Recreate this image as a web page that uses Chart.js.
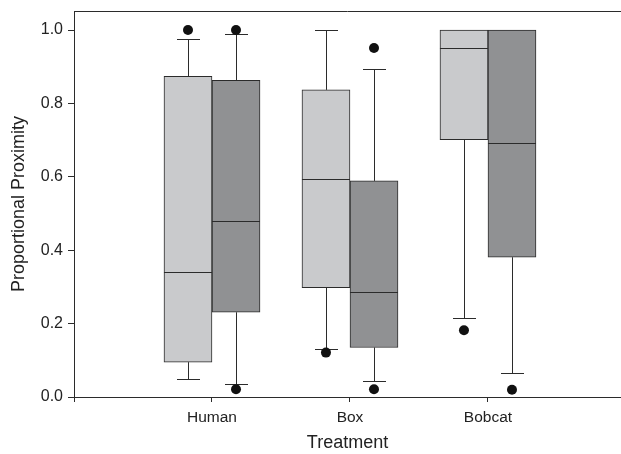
<!DOCTYPE html>
<html>
<head>
<meta charset="utf-8">
<script src="https://cdn.jsdelivr.net/npm/chart.js@4"></script>
<style>
  body { margin: 0; background: #fff; }
</style>
</head>
<body>
<canvas id="chart" width="621" height="454"></canvas>
<script>
// Data
const categories = ["Human", "Box", "Bobcat"];

// light gray boxes
const lightQ1 = [0.095, 0.298, 0.701];
const lightMed = [0.340, 0.595, 0.951];
const lightQ3 = [0.874, 0.837, 1.000];
const lightLow = [0.050, 0.131, 0.216];
const lightHigh = [0.977, 1.000, 1.000];
const lightOutliers = [[1.000], [0.121], [0.182]];

// dark gray boxes
const darkQ1 = [0.231, 0.135, 0.381];
const darkMed = [0.481, 0.285, 0.691];
const darkQ3 = [0.863, 0.589, 1.000];
const darkLow = [0.035, 0.044, 0.066];
const darkHigh = [0.988, 0.894, 1.000];
const darkOutliers = [[1.000, 0.021], [0.951, 0.021], [0.020]];

const yTicks = [0, 0.2, 0.4, 0.6, 0.8, 1.0];

const OFFSET = 0.174; // half a box, in category units
const ink = "#2b2b2b";
const font = "Liberation Sans, Arial, sans-serif";

function boxes(q1, q3, shift) {
  return categories.map((c, i) => ({ x: i + 1 + shift, y: [q1[i], q3[i]] }));
}
function outlierPoints(list, shift) {
  let pts = [];
  list.forEach((vals, i) => vals.forEach(v => pts.push({ x: i + 1 + shift, y: v })));
  return pts;
}

const series = [
  { shift: -OFFSET, low: lightLow, high: lightHigh, med: lightMed, q1: lightQ1, q3: lightQ3 },
  { shift: OFFSET, low: darkLow, high: darkHigh, med: darkMed, q1: darkQ1, q3: darkQ3 }
];

// whiskers, caps, medians and the top frame line
const boxExtras = {
  id: "boxExtras",
  beforeDatasetsDraw(chart) {
    const ctx = chart.ctx, x = chart.scales.x, y = chart.scales.y;
    ctx.save();
    ctx.strokeStyle = ink;
    ctx.lineWidth = 1;
    series.forEach(s => {
      categories.forEach((c, i) => {
        let cx = Math.round(x.getPixelForValue(i + 1 + s.shift)) + 0.5;
        let capHalf = 11.5;
        [[s.q3[i], s.high[i]], [s.q1[i], s.low[i]]].forEach(([from, to]) => {
          let y1 = y.getPixelForValue(from), y2 = Math.round(y.getPixelForValue(to)) + 0.5;
          ctx.beginPath();
          ctx.moveTo(cx, y1);
          ctx.lineTo(cx, y2);
          ctx.moveTo(cx - capHalf, y2);
          ctx.lineTo(cx + capHalf, y2);
          ctx.stroke();
        });
      });
    });
    ctx.restore();
  },
  afterDatasetsDraw(chart) {
    const ctx = chart.ctx, x = chart.scales.x, y = chart.scales.y, a = chart.chartArea;
    ctx.save();
    ctx.strokeStyle = ink;
    ctx.lineWidth = 1;
    series.forEach(s => {
      categories.forEach((c, i) => {
        let cx = x.getPixelForValue(i + 1 + s.shift);
        let my = Math.round(y.getPixelForValue(s.med[i])) + 0.5;
        ctx.beginPath();
        ctx.moveTo(cx - 24, my);
        ctx.lineTo(cx + 24, my);
        ctx.stroke();
      });
    });
    ctx.beginPath();
    ctx.moveTo(a.left, Math.round(a.top) + 0.5);
    ctx.lineTo(a.right, Math.round(a.top) + 0.5);
    ctx.stroke();
    ctx.restore();
  }
};

new Chart(document.getElementById("chart"), {
  data: {
    datasets: [
      {
        type: "scatter", data: outlierPoints(lightOutliers, -OFFSET),
        pointRadius: 5, pointBackgroundColor: "#111", pointBorderWidth: 0, order: 0
      },
      {
        type: "scatter", data: outlierPoints(darkOutliers, OFFSET),
        pointRadius: 5, pointBackgroundColor: "#111", pointBorderWidth: 0, order: 0
      },
      {
        type: "bar", data: boxes(lightQ1, lightQ3, -OFFSET),
        backgroundColor: "#c9cacc", borderColor: ink, borderWidth: 1,
        borderSkipped: false, barThickness: 48, grouped: false, order: 1
      },
      {
        type: "bar", data: boxes(darkQ1, darkQ3, OFFSET),
        backgroundColor: "#909193", borderColor: ink, borderWidth: 1,
        borderSkipped: false, barThickness: 48, grouped: false, order: 1
      }
    ]
  },
  options: {
    responsive: false,
    animation: false,
    devicePixelRatio: 1,
    layout: { autoPadding: false, padding: { top: 11, right: 0, left: 0, bottom: 0 } },
    plugins: { legend: { display: false }, tooltip: { enabled: false } },
    scales: {
      x: {
        type: "linear",
        offset: false,
        min: 0,
        max: 3.964,
        afterFit: s => { s.height = 57; s.paddingRight = 0; s.paddingLeft = 0; },
        afterBuildTicks: s => { s.ticks = [0, 1, 2, 3].map(v => ({ value: v })); },
        ticks: {
          autoSkip: false,
          maxRotation: 0,
          padding: 6,
          color: "#222",
          font: { family: font, size: 15.5 },
          callback: v => categories[v - 1] || ""
        },
        grid: { offset: false, drawOnChartArea: false, drawTicks: true, tickLength: 5, color: ink },
        border: { display: true, color: ink, width: 1 },
        title: {
          display: true, text: "Treatment", color: "#222",
          font: { family: font, size: 18 },
          padding: { top: 0, bottom: 0 }
        }
      },
      y: {
        type: "linear",
        min: 0,
        max: 1.052,
        afterFit: s => { s.width = 74; s.paddingTop = 0; s.paddingBottom = 0; },
        afterBuildTicks: s => { s.ticks = yTicks.map(v => ({ value: v })); },
        ticks: {
          padding: 5,
          color: "#222",
          font: { family: font, size: 16 },
          callback: v => v.toFixed(1)
        },
        grid: { drawOnChartArea: false, drawTicks: true, tickLength: 6, color: ink },
        border: { display: true, color: ink, width: 1 },
        title: {
          display: true, text: "Proportional Proximity", color: "#222",
          font: { family: font, size: 18 },
          padding: { top: 8, bottom: 0 }
        }
      }
    }
  },
  plugins: [boxExtras]
});
</script>
</body>
</html>
